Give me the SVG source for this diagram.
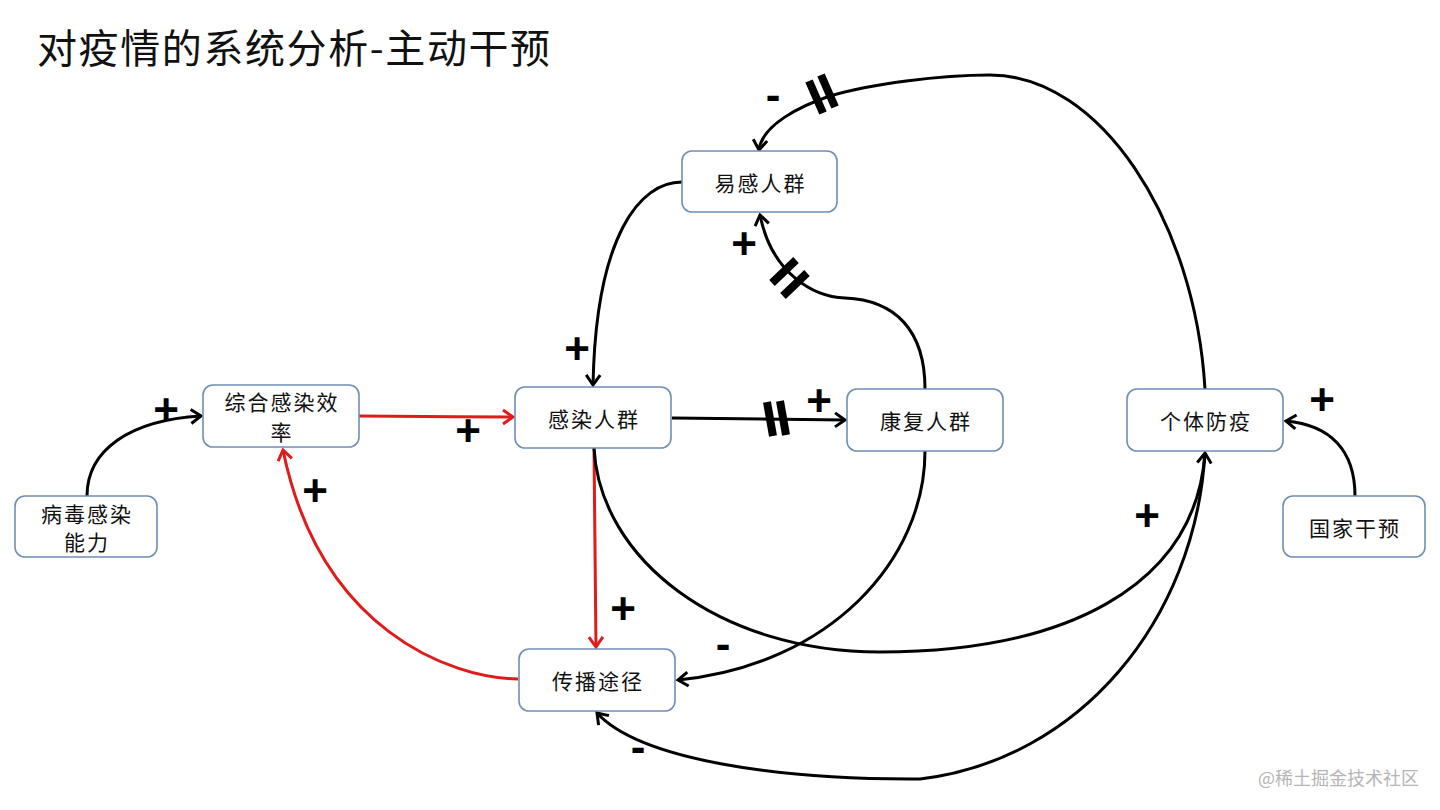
<svg xmlns="http://www.w3.org/2000/svg" width="1440" height="810" viewBox="0 0 1440 810">
<style>
.box{fill:#fff;stroke:#6f8fb3;stroke-width:1.6}
.nt{font-family:"Noto Sans CJK SC","Noto Sans",sans-serif;font-size:21px;fill:#111;text-anchor:middle;dominant-baseline:central;letter-spacing:2px}
.ln{fill:none;stroke:#000;stroke-width:3}
.red{fill:none;stroke:#e01b1b;stroke-width:3}
.sg{font-family:"Liberation Sans",Arial,sans-serif;font-weight:bold;font-size:44px;fill:#000;text-anchor:middle}
.dl{stroke:#000;stroke-width:8;fill:none}
</style>
<defs>
<marker id="ab" markerUnits="userSpaceOnUse" markerWidth="20" markerHeight="20" viewBox="0 0 20 20" refX="16" refY="10" orient="auto">
<path d="M6,3 L16,10 L6,17" fill="none" stroke="#000" stroke-width="3"/>
</marker>
<marker id="ar" markerUnits="userSpaceOnUse" markerWidth="20" markerHeight="20" viewBox="0 0 20 20" refX="16" refY="10" orient="auto">
<path d="M6,3 L16,10 L6,17" fill="none" stroke="#e01b1b" stroke-width="3"/>
</marker>
</defs>
<rect width="1440" height="810" fill="#fff"/>
<text x="37" y="63" font-family="Noto Sans CJK SC,sans-serif" font-size="40" fill="#111" letter-spacing="1.6">对疫情的系统分析-主动干预</text>

<g id="connectors">
<path class="ln" d="M87,496 C87,450 130,420 201,416" marker-end="url(#ab)"/>
<path class="red" d="M359,416 C420,416 460,417 513,417" marker-end="url(#ar)"/>
<path class="red" d="M594,448 L596,647" marker-end="url(#ar)"/>
<path class="red" d="M518,679 C450,678 320,630 283,450" marker-end="url(#ar)"/>
<path class="ln" d="M682,182 C640,182 596,235 593,385" marker-end="url(#ab)"/>
<path class="ln" d="M672,418 L845,420" marker-end="url(#ab)"/>
<path class="ln" d="M925,389 C925,330 895,300 845,298 C815,297 772,275 760,215" marker-end="url(#ab)"/>
<path class="ln" d="M1205,389 C1195,220 1100,75 990,75 C940,75 870,84 830,96 C800,106 762,125 759,150" marker-end="url(#ab)"/>
<path class="ln" d="M594,448 C600,560 720,652 880,652 C1060,652 1195,590 1205,453" marker-end="url(#ab)"/>
<path class="ln" d="M925,451 C925,560 830,665 678,680" marker-end="url(#ab)"/>
<path class="ln" d="M1205,453 C1195,620 1080,760 920,779 C780,780 640,760 597,713" marker-end="url(#ab)"/>
<path class="ln" d="M1355,496 C1355,450 1330,425 1286,421" marker-end="url(#ab)"/>
<path class="dl" d="M767,402 L773,436 M780,401 L786,435"/>
<path class="dl" d="M809,81 L823,113 M821,75 L835,107"/>
<path class="dl" d="M772,283 L796,260 M783,296 L807,273"/>
</g>

<g id="signs">
<text class="sg" x="166" y="425">+</text>
<text class="sg" x="468" y="446">+</text>
<text class="sg" x="315" y="506">+</text>
<text class="sg" x="577" y="364">+</text>
<text class="sg" x="744" y="259">+</text>
<text class="sg" x="819" y="416">+</text>
<text class="sg" x="623" y="624">+</text>
<text class="sg" x="1147" y="531">+</text>
<text class="sg" x="1322" y="415">+</text>
<text class="sg" x="773" y="110">-</text>
<text class="sg" x="723" y="659">-</text>
<text class="sg" x="638" y="762">-</text>
</g>

<g id="n-yigan"><rect class="box" x="682" y="151" width="155" height="61" rx="10"/><text class="nt" x="760.5" y="182">易感人群</text></g>
<g id="n-zonghe"><rect class="box" x="203" y="385" width="156" height="62" rx="10"/><text class="nt" x="282" y="401">综合感染效</text><text class="nt" x="282" y="431">率</text></g>
<g id="n-bingdu"><rect class="box" x="15" y="496" width="142" height="61" rx="10"/><text class="nt" x="87" y="513">病毒感染</text><text class="nt" x="87" y="541">能力</text></g>
<g id="n-ganran"><rect class="box" x="515" y="387" width="156" height="61" rx="10"/><text class="nt" x="594" y="418">感染人群</text></g>
<g id="n-kangfu"><rect class="box" x="847" y="389" width="156" height="62" rx="10"/><text class="nt" x="926" y="420">康复人群</text></g>
<g id="n-geti"><rect class="box" x="1127" y="389" width="156" height="62" rx="10"/><text class="nt" x="1206" y="420">个体防疫</text></g>
<g id="n-guojia"><rect class="box" x="1283" y="496" width="142" height="61" rx="10"/><text class="nt" x="1355" y="527">国家干预</text></g>
<g id="n-chuanbo"><rect class="box" x="519" y="649" width="156" height="62" rx="10"/><text class="nt" x="598" y="680">传播途径</text></g>

<text x="1258" y="777" font-family="Noto Sans CJK SC,sans-serif" font-size="18" fill="#b5b5b5" dominant-baseline="central">@稀土掘金技术社区</text>
</svg>
